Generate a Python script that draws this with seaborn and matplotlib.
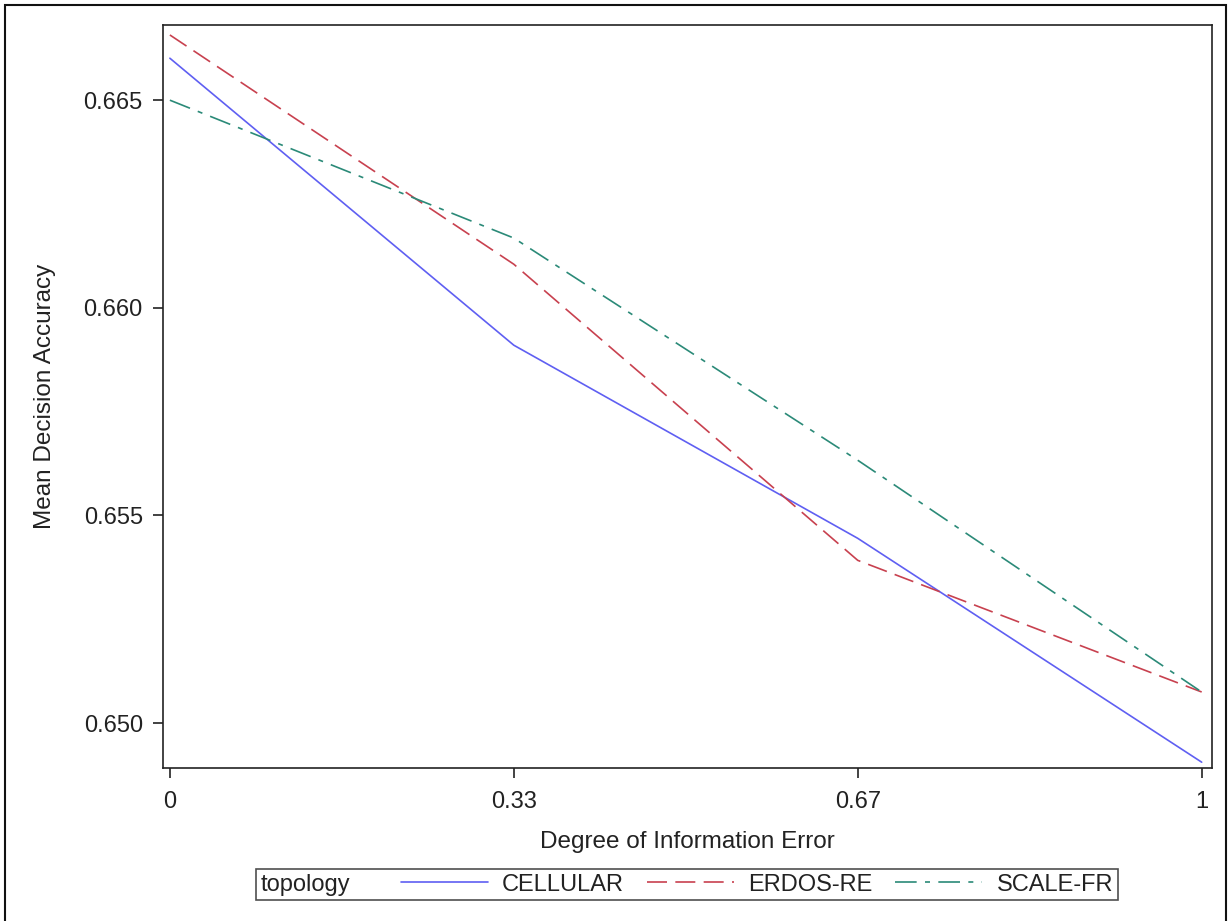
import pandas as pd
import matplotlib.pyplot as plt
import seaborn as sns
from matplotlib.lines import Line2D
from matplotlib.patches import Rectangle
from matplotlib.offsetbox import HPacker

error_levels = ['0', '0.33', '0.67', '1']
cellular = [0.66601, 0.65910, 0.65445, 0.64906]
erdos = [0.66657, 0.66105, 0.65392, 0.65075]
scale_free = [0.66500, 0.66168, 0.65633, 0.65075]
topologies = ['CELLULAR', 'ERDOS-RE', 'SCALE-FR']
colors = ['#5f5ff2', '#c8414f', '#2b8a78']

sns.set_theme(style='ticks')
plt.rcParams['font.family'] = ['Liberation Sans', 'DejaVu Sans']

df = pd.DataFrame({
    'error': error_levels * 3,
    'accuracy': cellular + erdos + scale_free,
    'topology': [t for t in topologies for _ in error_levels],
})

fs = 17
txt = '#222222'

fig = plt.figure(figsize=(12.29, 9.21), dpi=100)
ax = fig.add_axes([163 / 1229, 1 - 768 / 921, 1049 / 1229, 743 / 921])

dash_styles = {'CELLULAR': '', 'ERDOS-RE': (12, 5), 'SCALE-FR': (13, 5, 3, 5)}
sns.lineplot(data=df, x='error', y='accuracy', hue='topology', style='topology',
             palette=dict(zip(topologies, colors)), dashes=dash_styles,
             sort=False, linewidth=1.2, ax=ax, legend=False)

ax.set_xlim(-0.02, 3.03)
ax.set_ylim(0.64892, 0.66681)
ax.set_yticks([0.650, 0.655, 0.660, 0.665])
ax.set_yticklabels(['0.650', '0.655', '0.660', '0.665'])
ax.set_xlabel('Degree of Information Error', fontsize=17.5, color=txt, labelpad=13)
ax.set_ylabel('Mean Decision Accuracy', fontsize=17.5, color=txt, labelpad=20)
ax.tick_params(axis='both', direction='out', length=7.5, width=1.2, color=txt,
               labelsize=fs, labelcolor=txt, pad=7)
ax.tick_params(axis='x', pad=9)
for s in ax.spines.values():
    s.set_visible(True)
    s.set_color(txt)
    s.set_linewidth(1.2)

handles = [Line2D([], [], color=c, lw=1.2, linestyle='-') for c in colors]
handles[1].set_dashes(dash_styles['ERDOS-RE'])
handles[2].set_dashes(dash_styles['SCALE-FR'])
leg = fig.legend(handles, topologies, title='topology', ncol=3,
                 loc='upper center', bbox_to_anchor=(687 / 1229, 1 - 869 / 921),
                 frameon=True, fancybox=False, edgecolor=txt, fontsize=fs,
                 title_fontsize=fs, handlelength=3.7, handletextpad=0.6,
                 columnspacing=0.95, borderpad=0.2, borderaxespad=0)
leg.get_frame().set_linewidth(1.2)
for t in leg.get_texts():
    t.set_color(txt)
leg.get_title().set_color(txt)

# put the legend title inline, left of the entries
box = leg._legend_box
inline = HPacker(pad=box.pad, sep=36, align='center', children=box.get_children())
inline.set_figure(fig)
inline.axes = box.axes
inline.set_offset(leg._findoffset)
leg._legend_box = inline

fig.add_artist(Rectangle((5 / 1229, -0.02), 1221 / 1229, 1.02 - 5 / 921,
                         transform=fig.transFigure, fill=False,
                         edgecolor='#111111', linewidth=1.5, clip_on=False))

fig.savefig('out.png', dpi=100, facecolor='white')
